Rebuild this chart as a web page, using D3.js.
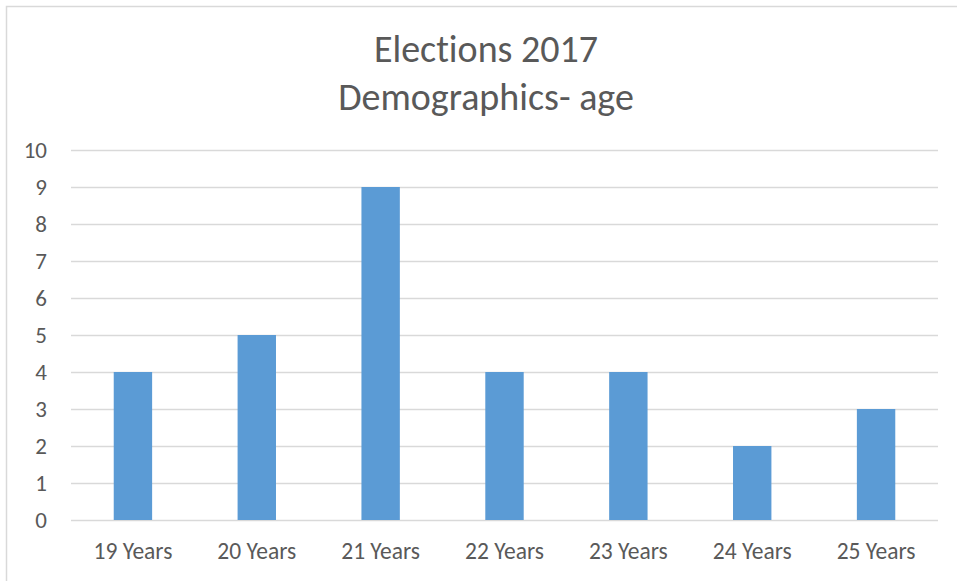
<!DOCTYPE html>
<html>
<head>
<meta charset="utf-8">
<script src="https://cdn.jsdelivr.net/npm/d3@7"></script>
<style>
  html, body { margin: 0; padding: 0; background: #fff; }
  svg { display: block; font-family: Carlito, Calibri, Lato, "Open Sans", sans-serif; font-variant-ligatures: none; }
</style>
</head>
<body>
<svg id="chart" width="957" height="581"></svg>
<script>
// Age groups and the number of candidates in each
const categories = ["19 Years", "20 Years", "21 Years", "22 Years", "23 Years", "24 Years", "25 Years"];
const counts = [4, 5, 9, 4, 4, 2, 3];
const yTicks = [0, 1, 2, 3, 4, 5, 6, 7, 8, 9, 10];
const titleLines = ["Elections 2017", "Demographics- age"];

const svg = d3.select("#chart");
const W = 957, H = 581;
const plot = { left: 71, right: 938, top: 150, bottom: 520 };
const textColor = "#595959";

// Chart frame (only the top and left edges fall inside the view)
svg.append("rect")
  .attr("x", 6.5).attr("y", 6.5)
  .attr("width", W + 10).attr("height", H + 10)
  .attr("fill", "#fff").attr("stroke", "#d9d9d9").attr("stroke-width", 1.5);

const x = d3.scaleBand()
  .domain(categories)
  .range([plot.left, plot.right])
  .paddingInner(0.69)
  .paddingOuter(0.345);

const y = d3.scaleLinear()
  .domain([0, 10])
  .range([plot.bottom, plot.top]);

// Horizontal gridlines
svg.append("g")
  .selectAll("line")
  .data(yTicks)
  .join("line")
  .attr("x1", plot.left).attr("x2", plot.right)
  .attr("y1", d => Math.round(y(d)) + 0.5)
  .attr("y2", d => Math.round(y(d)) + 0.5)
  .attr("stroke", "#d9d9d9").attr("stroke-width", 1.5);

// Bars
svg.append("g")
  .selectAll("rect")
  .data(counts)
  .join("rect")
  .attr("x", (d, i) => x(categories[i]))
  .attr("width", x.bandwidth())
  .attr("y", d => y(d))
  .attr("height", d => y(0) - y(d))
  .attr("fill", "#5b9bd5");

// Y axis labels
const yAxis = svg.append("g")
  .attr("transform", `translate(${plot.left - 24},0)`)
  .call(d3.axisLeft(y).tickValues(yTicks).tickFormat(d3.format("d")).tickSize(0).tickPadding(0))
  .attr("font-family", null).attr("font-size", null);
yAxis.select(".domain").remove();
yAxis.selectAll("text")
  .attr("fill", textColor).attr("font-size", 23);

// X axis labels
const xAxis = svg.append("g")
  .attr("transform", `translate(0,${plot.bottom})`)
  .call(d3.axisBottom(x).tickSize(0).tickPadding(0))
  .attr("font-family", null).attr("font-size", null);
xAxis.select(".domain").remove();
xAxis.selectAll("text")
  .attr("dy", null)
  .attr("y", 39)
  .attr("fill", textColor).attr("font-size", 23.5);

// Title
svg.append("g")
  .selectAll("text")
  .data(titleLines)
  .join("text")
  .attr("x", 486)
  .attr("y", (d, i) => 62 + i * 48)
  .attr("text-anchor", "middle")
  .attr("fill", textColor)
  .attr("font-size", 38)
  .text(d => d);
</script>
</body>
</html>
